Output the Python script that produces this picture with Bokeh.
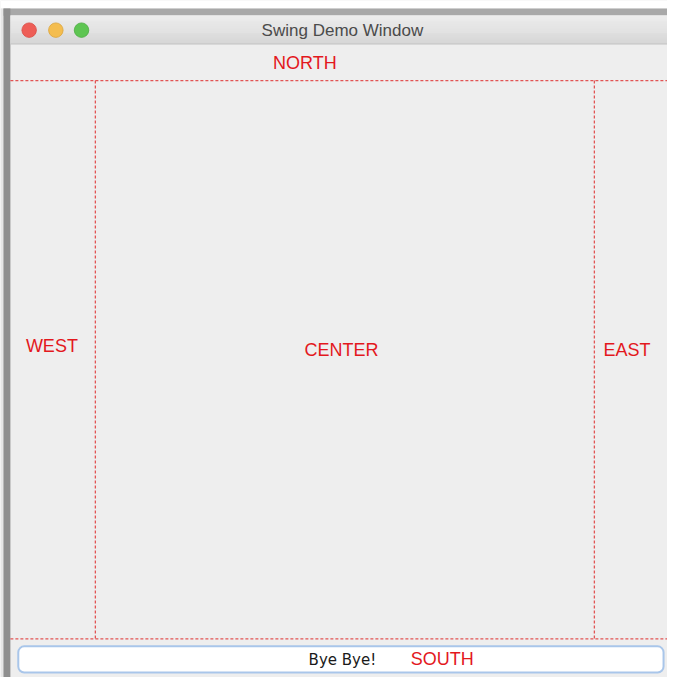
from bokeh.plotting import figure
from bokeh.models import Range1d
from bokeh.core.properties import value
from bokeh.embed import file_html
from bokeh.resources import INLINE

# ---- content of the picture ----
window_title = "Swing Demo Window"
region_labels = ["NORTH", "WEST", "CENTER", "EAST", "SOUTH"]
button_label = "Bye Bye!"
traffic_colors = ["#ee5e57", "#f4bd4f", "#5ec552"]
traffic_edges = ["#d94c45", "#dba53c", "#4cac42"]

# ---- layout (reference image pixel coordinates, scaled uniformly into the figure) ----
p = figure(width=667, height=677, x_range=Range1d(0, 675), y_range=Range1d(685, 0),
           output_backend="svg", toolbar_location=None, min_border=0)
p.axis.visible = False
p.grid.visible = False
p.outline_line_color = None
p.background_fill_color = "#eeeeee"
p.border_fill_color = "white"

# surroundings of the window
p.quad(left=[0], right=[675], top=[0], bottom=[8], fill_color="white", line_color=None)
p.quad(left=[0], right=[3], top=[8], bottom=[685], fill_color="#e6e6e6", line_color=None)
p.quad(left=[3], right=[675], top=[8], bottom=[15.5], fill_color="#a8a8a8", line_color=None)
p.quad(left=[3], right=[10], top=[8], bottom=[685], fill_color="#8f8f8f", line_color=None)

# title bar gradient
n = 29
c0, c1 = (236, 236, 236), (214, 214, 214)
cols = []
for i in range(n):
    t = i / (n - 1)
    r = tuple(int(round(a + (b - a) * t)) for a, b in zip(c0, c1))
    cols.append("#%02x%02x%02x" % r)
p.quad(left=[10] * n, right=[675] * n, top=[15 + i for i in range(n)],
       bottom=[16 + i for i in range(n)], fill_color=cols, line_color=None)
p.segment(x0=[10], y0=[44], x1=[675], y1=[44], line_color="#c2c2c2", line_width=1)

# traffic lights
p.scatter(x=[29, 56, 82], y=[30, 30, 30], size=14.5, fill_color=traffic_colors,
          line_color=traffic_edges, line_width=0.8)

# title
p.text(x=[346], y=[30], text=[window_title], text_font=value("Liberation Sans"),
       text_font_size="17px", text_color="#4b4b4b", text_align="center",
       text_baseline="middle")

# dashed region borders
red_line = "#e25454"
p.segment(x0=[10, 10, 96, 601], y0=[81, 646, 81, 81], x1=[675, 675, 96, 601],
          y1=[81, 646, 646, 646], line_color=red_line, line_width=1.3, line_dash="3 2")

# button
p.quad(left=[18], right=[671], top=[653.5], bottom=[680], fill_color="white",
       line_color="#a9c6ea", line_width=2, border_radius=6)
p.text(x=[346], y=[667], text=[button_label], text_font=value("DejaVu Sans"),
       text_font_size="15px", text_color="#1a1a1a", text_align="center",
       text_baseline="middle")

# region labels
lx = [308, 52, 345, 634, 447]
ly = [63, 350, 354, 354, 666]
p.text(x=lx, y=ly, text=region_labels, text_font=value("Liberation Sans"),
       text_font_size="18px", text_color="#e3181d", text_align="center",
       text_baseline="middle")

open("out.html", "w").write(file_html(p, INLINE))
